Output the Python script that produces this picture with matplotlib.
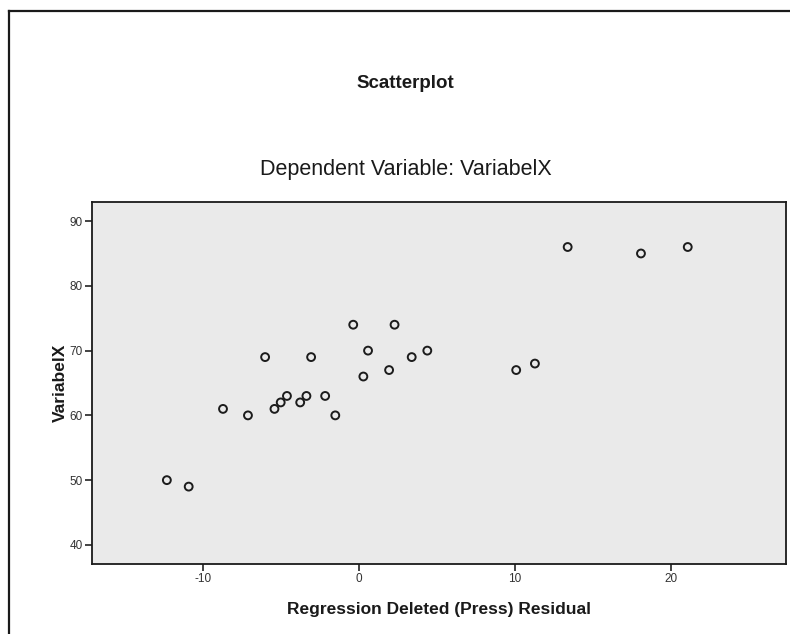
import matplotlib
matplotlib.use("Agg")
import matplotlib.pyplot as plt
from matplotlib.lines import Line2D

plt.rcParams['font.family'] = ['Liberation Sans', 'DejaVu Sans']
plt.rcParams['axes.unicode_minus'] = False

# Data
residual = [-12.3, -10.9, -8.7, -7.1, -5.4, -5.0, -4.6, -3.75, -3.35, -2.15, -1.5,
            -6.0, -3.05, -0.35, 2.3, 0.6, 0.3, 1.95, 3.4, 4.4,
            10.1, 11.3, 13.4, 18.1, 21.1]
variabelx = [50, 49, 61, 60, 61, 62, 63, 62, 63, 63, 60,
             69, 69, 74, 74, 70, 66, 67, 69, 70,
             67, 68, 86, 85, 86]
x_ticks = [-10, 0, 10, 20]
y_ticks = [40, 50, 60, 70, 80, 90]

W, H = 790, 634
fig = plt.figure(figsize=(W / 100, H / 100), dpi=100)
fig.patch.set_facecolor('white')

# Outer frame (left and top edges visible)
fig.add_artist(Line2D([9 / W, 9 / W], [0, 1 - 11 / H], transform=fig.transFigure,
                      color='#1a1a1a', lw=1.6))
fig.add_artist(Line2D([9 / W, 1], [1 - 11 / H, 1 - 11 / H], transform=fig.transFigure,
                      color='#1a1a1a', lw=1.6))

left, right, top, bottom = 92, 786, 202, 564
ax = fig.add_axes([left / W, 1 - bottom / H, (right - left) / W, (bottom - top) / H])
ax.set_facecolor('#eaeaea')

ax.scatter(residual, variabelx, s=32, facecolors='none', edgecolors='#1c1c1c',
           linewidths=1.4, zorder=3)

ax.set_xlim(-17.1, 27.4)
ax.set_ylim(37.05, 92.95)
ax.set_xticks(x_ticks)
ax.set_yticks(y_ticks)
ax.tick_params(axis='both', direction='out', length=5, width=1.2, color='#222222',
               labelsize=8.5, labelcolor='#333333', pad=1.5)
for s in ax.spines.values():
    s.set_color('#1a1a1a')
    s.set_linewidth(1.3)

ax.set_xlabel('Regression Deleted (Press) Residual', fontsize=12.5, fontweight='bold',
              color='#1a1a1a', labelpad=12)
ax.set_ylabel('VariabelX', fontsize=12.5, fontweight='bold', color='#1a1a1a', labelpad=1)

fig.text(405 / W, 1 - 83 / H, 'Scatterplot', ha='center', va='center', fontsize=13.5,
         fontweight='bold', color='#1a1a1a')
fig.text(406 / W, 1 - 170 / H, 'Dependent Variable: VariabelX', ha='center', va='center',
         fontsize=15.5, color='#1a1a1a')

fig.savefig('out.png', dpi=100, facecolor='white')
